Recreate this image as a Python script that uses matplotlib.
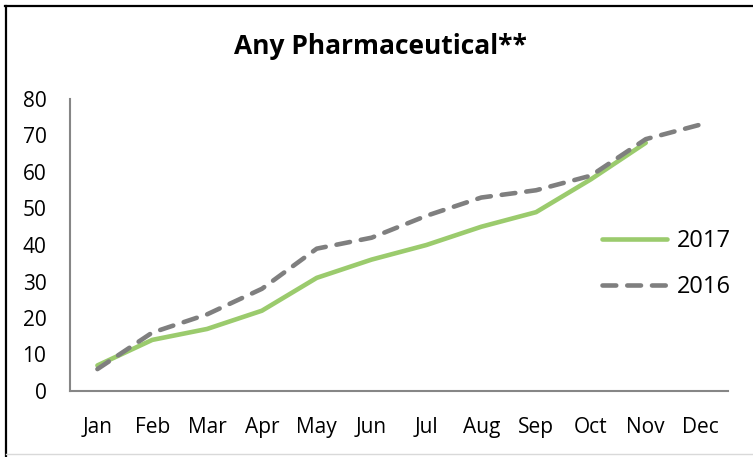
import matplotlib
matplotlib.use("Agg")
import matplotlib.pyplot as plt
from matplotlib.lines import Line2D

plt.rcParams['font.family'] = ['Open Sans', 'DejaVu Sans']

# 数据
months = ["Jan", "Feb", "Mar", "Apr", "May", "Jun", "Jul", "Aug", "Sep", "Oct", "Nov", "Dec"]
values_2017 = [7, 14, 17, 22, 31, 36, 40, 45, 49, 58, 68]
values_2016 = [6, 16, 21, 28, 39, 42, 48, 53, 55, 59, 69, 73]
yticks = [0, 10, 20, 30, 40, 50, 60, 70, 80]

W, H = 753, 457
fig = plt.figure(figsize=(W / 100, H / 100), dpi=100)
ax = fig.add_axes([70 / W, 1 - 391 / H, 658 / W, 292 / H])

# 外框 (上边和左边是黑线, 下边浅灰)
fig.add_artist(Line2D([5 / W, 1], [1 - 6 / H, 1 - 6 / H], transform=fig.transFigure,
                      color="black", linewidth=1.6))
fig.add_artist(Line2D([6 / W, 6 / W], [0, 1 - 6 / H], transform=fig.transFigure,
                      color="black", linewidth=1.6))
fig.add_artist(Line2D([6 / W, 1], [1 - 454 / H, 1 - 454 / H], transform=fig.transFigure,
                      color="#d9d9d9", linewidth=1.0))

ax.plot(range(len(values_2017)), values_2017, color="#9bcb6d", linewidth=3.3,
        solid_capstyle="round", label="2017")
ax.plot(range(len(values_2016)), values_2016, color="#7f7f7f", linewidth=3.3,
        linestyle=(0, (3.0, 2.4)), dash_capstyle="round", label="2016")

ax.set_xlim(-0.5, 11.5)
ax.set_ylim(0, 80)
ax.set_xticks(range(len(months)))
ax.set_xticklabels(months)
ax.set_yticks(yticks)

for side in ["top", "right"]:
    ax.spines[side].set_visible(False)
for side in ["left", "bottom"]:
    ax.spines[side].set_color("#868686")
    ax.spines[side].set_linewidth(1.5)
ax.tick_params(length=0, labelsize=15, colors="black")
ax.tick_params(axis="x", pad=19)
ax.tick_params(axis="y", pad=17)

fig.text(380 / W, 1 - 46 / H, "Any Pharmaceutical**", ha="center", va="center",
         fontsize=19, fontweight="bold")

ax.legend(loc="upper left", bbox_to_anchor=(602 / W, 1 - 229 / H),
          bbox_transform=fig.transFigure, frameon=False, borderpad=0, borderaxespad=0,
          fontsize=17, handlelength=2.75, labelspacing=0.95, handletextpad=0.4)

fig.savefig("out.png", dpi=100)
